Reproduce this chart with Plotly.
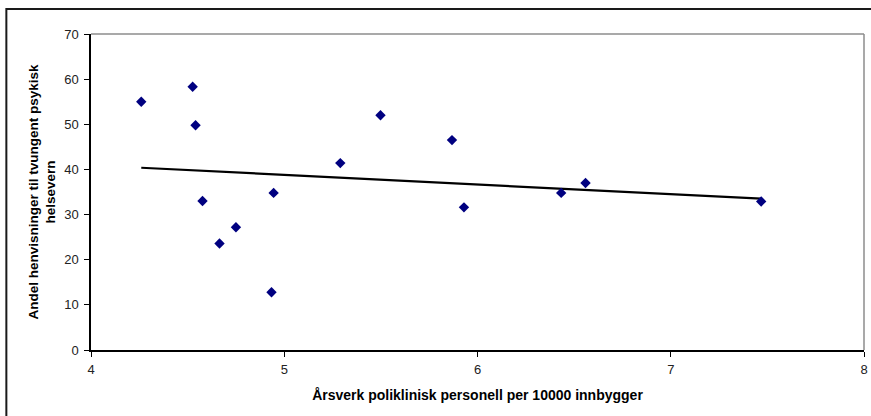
import numpy as np
import plotly.graph_objects as go

# Data
arsverk = [4.26, 4.526, 4.541, 4.577, 4.665, 4.75, 4.934, 4.945, 5.29, 5.498, 5.868, 5.93, 6.433, 6.559, 7.468]
andel = [55.0, 58.3, 49.8, 33.0, 23.6, 27.2, 12.8, 34.8, 41.4, 52.0, 46.5, 31.6, 34.8, 37.0, 32.9]

x_ticks = [4, 5, 6, 7, 8]
y_ticks = [0, 10, 20, 30, 40, 50, 60, 70]

x_title = "Årsverk poliklinisk personell per 10000 innbygger"
y_title = "Andel henvisninger til tvungent psykisk<br>helsevern"

# Linear trendline
slope, intercept = np.polyfit(arsverk, andel, 1)
tx = [min(arsverk), max(arsverk)]
ty = [slope * v + intercept for v in tx]

fig = go.Figure()
fig.add_trace(go.Scatter(
    x=tx, y=ty, mode="lines",
    line=dict(color="black", width=2.2),
    hoverinfo="skip", showlegend=False,
))
fig.add_trace(go.Scatter(
    x=arsverk, y=andel, mode="markers",
    marker=dict(symbol="diamond", color="#000080", size=8, line=dict(width=0)),
    showlegend=False,
))

font_family = "Liberation Sans, Arial, sans-serif"

fig.update_layout(
    width=871, height=416,
    margin=dict(l=91, r=7, t=34, b=66),
    paper_bgcolor="white",
    plot_bgcolor="white",
    font=dict(family=font_family, size=13, color="#222222"),
    xaxis=dict(
        range=[4, 8], tickvals=x_ticks, ticks="outside", ticklen=5,
        tickcolor="black", showline=True, linecolor="black", linewidth=1.5,
        showgrid=False, zeroline=False, mirror=False, automargin=False,
        tickfont=dict(size=13, color="#222222"), ticklabelstandoff=2,
        title=dict(text="<b>" + x_title + "</b>", font=dict(size=14, color="black"), standoff=14),
    ),
    yaxis=dict(
        range=[0, 70], tickvals=y_ticks, ticks="outside", ticklen=5,
        tickcolor="black", showline=True, linecolor="black", linewidth=1.5,
        showgrid=False, zeroline=False, automargin=False,
        tickfont=dict(size=13, color="#222222"), ticklabelstandoff=3,
        title=dict(text="<b>" + y_title + "</b>", font=dict(size=13.5, color="black"), standoff=5),
    ),
    shapes=[
        # grey frame on top and right of plot area
        dict(type="line", xref="paper", yref="paper", x0=0, x1=1, y0=1, y1=1,
             line=dict(color="#8c8c8c", width=1.5)),
        dict(type="line", xref="paper", yref="paper", x0=1, x1=1, y0=0, y1=1,
             line=dict(color="#8c8c8c", width=1.5)),
        # outer chart border (extends past right/bottom edges)
        dict(type="rect", xref="paper", yref="paper",
             x0=-0.1095, x1=1.05, y0=-0.25, y1=1.079,
             line=dict(color="#1a1a1a", width=2), layer="below"),
    ],
)

fig.write_html("out.html")
